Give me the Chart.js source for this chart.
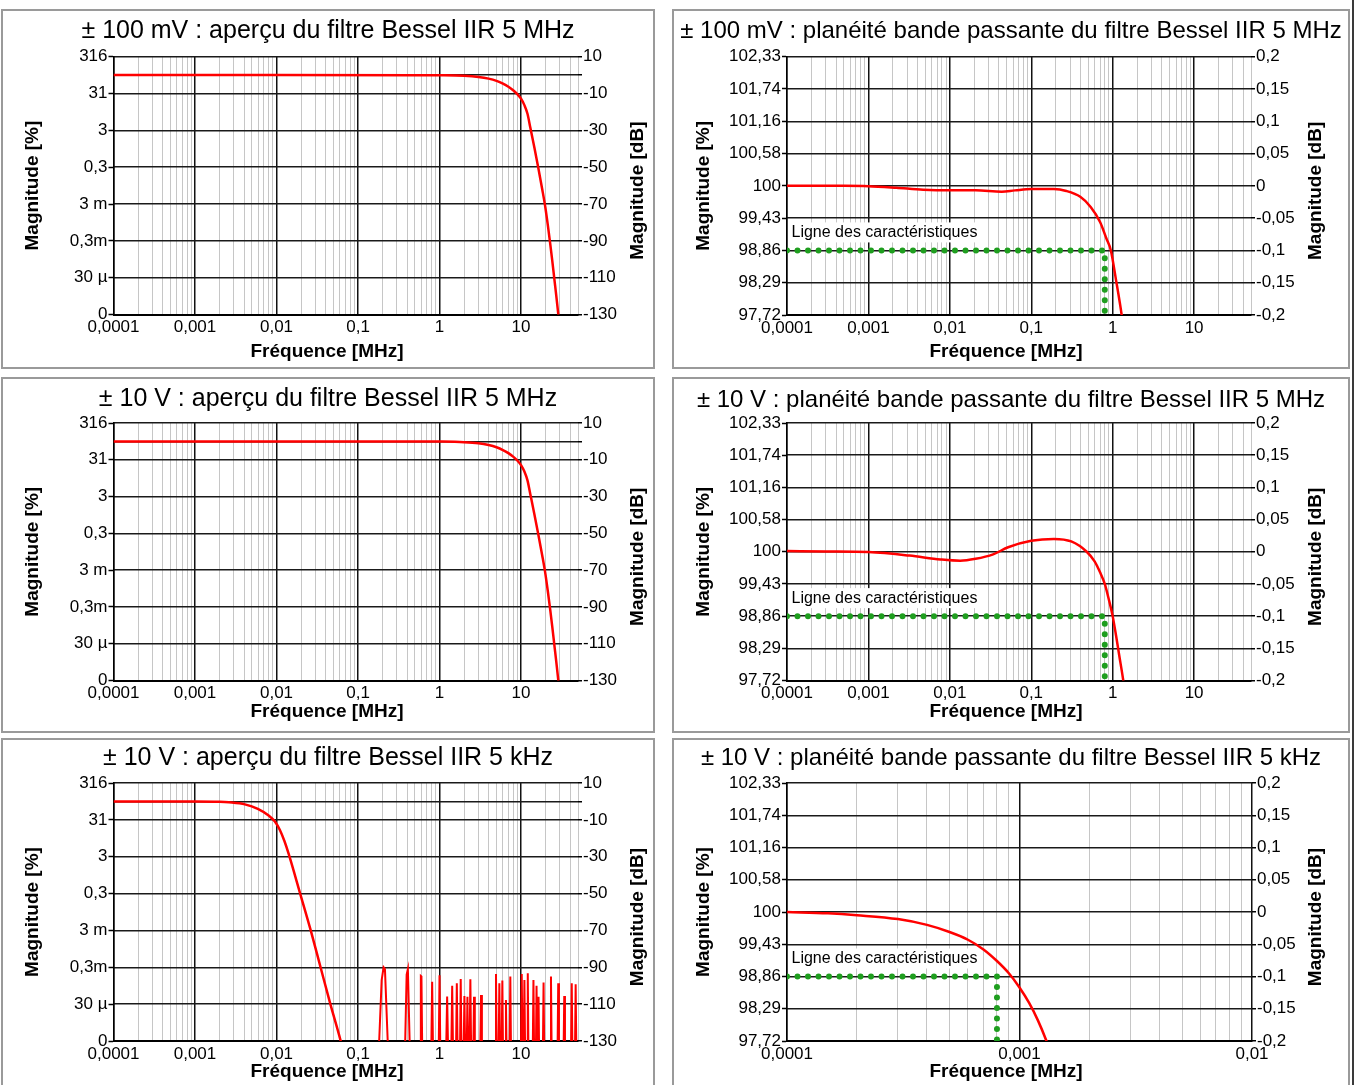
<!DOCTYPE html>
<html lang="fr">
<head>
<meta charset="UTF-8">
<title>Filtre Bessel IIR</title>
<script src="https://cdn.jsdelivr.net/npm/chart.js"></script>
<style>
  html, body { margin: 0; padding: 0; background: #fff; }
  body { width: 1355px; height: 1085px; position: relative; overflow: hidden; }
  .panel { position: absolute; box-sizing: border-box; border: 2px solid #9a9a9a; }
  canvas { position: absolute; }
  #edge { position: absolute; left: 1352px; top: 0; width: 2px; height: 1085px; background: #3a3a3a; }
</style>
</head>
<body>
<div id="edge"></div>
<script>
// frequencies in MHz, magnitudes in dB
const ov100mVFreq = [0.0001, 0.01, 0.5, 1, 2, 3, 4, 5, 6, 7, 8, 9, 10, 11, 12, 13, 14.6, 16.3, 18.2, 19.9, 21.4, 22.8, 24.2, 25.6, 27.1, 28.6, 30];
const ov100mVDb   = [0, 0, -0.03, -0.1, -0.4, -1.0, -1.9, -3.1, -4.6, -6.3, -8.2, -10.3, -12.8, -16.3, -21, -28.5, -39.5, -50.5, -62, -72, -82, -91.5, -101, -110.5, -120, -129.5, -138];

const ov10VFreq = [0.0001, 0.01, 0.5, 1, 2, 3, 4, 5, 6, 7, 8, 9, 10, 11, 12, 13, 14.6, 16.3, 18.2, 19.9, 21.4, 22.8, 24.2, 25.6, 27.1, 28.6, 30];
const ov10VDb   = [0, 0, -0.03, -0.1, -0.45, -1.05, -2.0, -3.2, -4.7, -6.4, -8.3, -10.4, -12.9, -16.4, -21.2, -28.7, -39.7, -50.6, -62, -72, -82, -91.5, -101, -110.5, -120, -129.5, -138];

const ov5kFreq = [0.0001, 0.001, 0.002, 0.0026, 0.0041, 0.0059, 0.008, 0.0095, 0.011, 0.0125, 0.0141, 0.0195, 0.0263, 0.0347, 0.0458, 0.0613, 0.066];
const ov5kDb   = [0, 0, -0.2, -0.5, -1.6, -4, -7.6, -10.8, -15.5, -21.5, -28.5, -50, -70, -90, -110, -130, -136];

// residual noise spikes of the 5 kHz filter (floor below the axis)
const noise5kFreq = [0.178, 0.195, 0.206, 0.214, 0.236,
  0.375, 0.395, 0.409, 0.435,
  0.58, 0.59, 0.6, 0.615,
  0.79, 0.812, 0.835,
  0.975, 1.0, 1.025,
  1.2, 1.24, 1.28,
  1.39, 1.43, 1.47,
  1.59, 1.63, 1.67,
  1.78, 1.82, 1.86,
  1.97, 2.02, 2.07,
  2.15, 2.2, 2.25,
  2.33, 2.39, 2.45,
  2.59, 2.65, 2.71,
  3.15, 3.23, 3.31,
  4.82, 4.93, 5.04,
  5.3, 5.42, 5.54,
  5.77, 5.9, 6.03,
  6.39, 6.53, 6.67,
  7.23, 7.39, 7.55,
  9.95, 10.2, 10.45,
  10.75, 11.0, 11.25,
  11.85, 12.1, 12.35,
  13.9, 14.2, 14.5,
  15.2, 15.5, 15.8,
  16.1, 16.4, 16.7,
  18.5, 18.9, 19.3,
  22.8, 23.3, 23.8,
  28.0, 28.6, 29.2,
  33.2, 33.9, 34.6,
  41.0, 41.9, 42.8,
  45.8, 46.8, 47.8];
const noise5kDb = [-140, -97, -90, -91, -140,
  -140, -94, -91, -140,
  -140, -94.7, -95, -140,
  -140, -97.8, -140,
  -140, -94.3, -140,
  -140, -105.9, -140,
  -140, -100, -140,
  -140, -98.7, -140,
  -140, -96.3, -140,
  -140, -105.6, -140,
  -140, -106, -140,
  -140, -96.5, -140,
  -140, -106, -140,
  -140, -105, -140,
  -140, -93.6, -140,
  -140, -98.7, -140,
  -140, -97.2, -140,
  -140, -107.7, -140,
  -140, -95, -140,
  -140, -93.6, -140,
  -140, -96.9, -140,
  -140, -93.3, -140,
  -140, -96.9, -140,
  -140, -100, -140,
  -140, -106, -140,
  -140, -98.3, -140,
  -140, -95, -140,
  -140, -98.7, -140,
  -140, -105.6, -140,
  -140, -98.7, -140,
  -140, -99.2, -140];

const flat100mVFreq = [0.0001, 0.0005, 0.001, 0.0022, 0.0047, 0.01, 0.0207, 0.0434, 0.063, 0.1, 0.19, 0.27, 0.4, 0.54, 0.7, 0.84, 0.95, 1.1, 1.29, 1.35];
const flat100mVDb   = [0, 0, -0.0005, -0.003, -0.006, -0.007, -0.007, -0.009, -0.007, -0.005, -0.005, -0.008, -0.017, -0.033, -0.056, -0.082, -0.1, -0.146, -0.2, -0.22];

const flat10VFreq = [0.0001, 0.0003, 0.001, 0.0032, 0.0077, 0.0134, 0.0207, 0.034, 0.052, 0.1, 0.19, 0.31, 0.48, 0.6, 0.7, 0.8, 0.9, 1.0, 1.1, 1.2, 1.35, 1.42];
const flat10VDb   = [0.001, 0.0005, -0.0005, -0.006, -0.012, -0.014, -0.011, -0.004, 0.007, 0.017, 0.02, 0.016, 0, -0.015, -0.032, -0.05, -0.075, -0.1, -0.13, -0.16, -0.2, -0.22];

const flat5kFreq = [0.0001, 0.00015, 0.0002, 0.0003, 0.0004, 0.0005, 0.0006, 0.0007, 0.0008, 0.0009, 0.001, 0.0011, 0.0012, 0.0013, 0.0014];
const flat5kDb   = [0, -0.002, -0.005, -0.011, -0.02, -0.031, -0.043, -0.058, -0.076, -0.095, -0.117, -0.141, -0.168, -0.198, -0.23];

// "Ligne des caractéristiques" corner points
const specDb = -0.1;
const specFloorDb = -0.2;
const spec5MHzFreq = 0.8;
const spec5kHzFreq = 0.0008;

// axis ticks and labels
const freqTickValues = [0.0001, 0.001, 0.01, 0.1, 1, 10];
const freqTickLabels = ['0,0001', '0,001', '0,01', '0,1', '1', '10'];

const ovPctTicks  = [10, -10, -30, -50, -70, -90, -110, -130];
const ovPctLabels = ['316', '31', '3', '0,3', '3 m', '0,3m', '30 µ', '0'];
const ovDbTicks   = [10, 0, -10, -30, -50, -70, -90, -110, -130];
const ovDbLabels  = ['10', '', '-10', '-30', '-50', '-70', '-90', '-110', '-130'];

const flatDbTicks   = [0.2, 0.15, 0.1, 0.05, 0, -0.05, -0.1, -0.15, -0.2];
const flatPctLabels = ['102,33', '101,74', '101,16', '100,58', '100', '99,43', '98,86', '98,29', '97,72'];
const flatDbLabels  = ['0,2', '0,15', '0,1', '0,05', '0', '-0,05', '-0,1', '-0,15', '-0,2'];

const FONT = '"Liberation Sans", Arial, Helvetica, sans-serif';
Chart.defaults.font.family = FONT;
Chart.defaults.color = '#000';

const panels = [
  { box: [1, 9, 654, 360], plot: [113.5, 56.7, 578, 314.5], titleY: 31.5, titleSize: 25, xTitle: [327, 352], rightTitleX: 638,
    title: '± 100 mV : aperçu du filtre Bessel IIR 5 MHz', kind: 'overview', xMax: 50,
    curves: [[ov100mVFreq, ov100mVDb]] },
  { box: [672, 9, 678, 360], plot: [787, 56.7, 1251, 315], titleY: 31, titleSize: 24, xTitle: [1006, 352], rightTitleX: 1316,
    title: '± 100 mV : planéité bande passante du filtre Bessel IIR 5 MHz', kind: 'flat', xMax: 50,
    curves: [[flat100mVFreq, flat100mVDb]], spec: spec5MHzFreq },
  { box: [1, 377, 654, 356], plot: [113.5, 423, 578, 680.5], titleY: 399, titleSize: 25, xTitle: [327, 711.5], rightTitleX: 638,
    title: '± 10 V : aperçu du filtre Bessel IIR 5 MHz', kind: 'overview', xMax: 50,
    curves: [[ov10VFreq, ov10VDb]] },
  { box: [672, 377, 678, 356], plot: [787, 423, 1251, 680.5], titleY: 400, titleSize: 24, xTitle: [1006, 711.5], rightTitleX: 1316,
    title: '± 10 V : planéité bande passante du filtre Bessel IIR 5 MHz', kind: 'flat', xMax: 50,
    curves: [[flat10VFreq, flat10VDb]], spec: spec5MHzFreq },
  { box: [1, 738, 654, 360], plot: [113.5, 783, 578, 1041], titleY: 758, titleSize: 25, xTitle: [327, 1072], rightTitleX: 638,
    title: '± 10 V : aperçu du filtre Bessel IIR 5 kHz', kind: 'overview', xMax: 50,
    curves: [[ov5kFreq, ov5kDb], [noise5kFreq, noise5kDb]] },
  { box: [672, 738, 678, 360], plot: [787, 783, 1252, 1041], titleY: 758, titleSize: 24, xTitle: [1006, 1072], rightTitleX: 1316,
    title: '± 10 V : planéité bande passante du filtre Bessel IIR 5 kHz', kind: 'flat', xMax: 0.01,
    curves: [[flat5kFreq, flat5kDb]], spec: spec5kHzFreq }
];

function freqGrid(min, max) {
  const out = [];
  for (let e = Math.round(Math.log10(min)); Math.pow(10, e) <= max * 1.001; e++) {
    for (let k = 1; k <= 9; k++) {
      const v = Number((k * Math.pow(10, e)).toPrecision(6));
      if (v <= max * 1.001) out.push({ value: v, major: k === 1 });
    }
  }
  return out;
}

function freqLabel(v) {
  const i = freqTickValues.findIndex(t => Math.abs(t - v) / t < 1e-6);
  return i >= 0 ? freqTickLabels[i] : '';
}

// extra text: axis titles placed like the original and the spec line caption
const panelText = {
  id: 'panelText',
  beforeDatasetsDraw(chart, args, opts) {
    if (!opts.note) return;
    const { ctx, chartArea } = chart;
    const y = chart.scales.y.getPixelForValue(specDb) - 18;
    const x = chartArea.left + 4.5;
    ctx.save();
    ctx.font = '16px ' + FONT;
    const w = ctx.measureText(opts.note).width;
    ctx.fillStyle = '#fff';
    ctx.fillRect(x - 1, y - 10, w + 3, 20);
    ctx.fillStyle = '#000';
    ctx.textBaseline = 'middle';
    ctx.fillText(opts.note, x, y);
    ctx.restore();
  },
  afterDraw(chart, args, opts) {
    const { ctx, chartArea } = chart;
    ctx.save();
    ctx.font = 'bold 19px ' + FONT;
    ctx.fillStyle = '#000';
    ctx.textAlign = 'center';
    ctx.textBaseline = 'middle';
    ctx.fillText('Fréquence [MHz]', opts.xTitleX, opts.xTitleY);
    ctx.translate(opts.rightTitleX, (chartArea.top + chartArea.bottom) / 2 + 5);
    ctx.rotate(-Math.PI / 2);
    ctx.fillText('Magnitude [dB]', 0, 0);
    ctx.restore();
  }
};

panels.forEach(p => {
  const [bx, by, bw, bh] = p.box;
  const [pl, pt, pr, pb] = p.plot;

  const frame = document.createElement('div');
  frame.className = 'panel';
  Object.assign(frame.style, { left: bx + 'px', top: by + 'px', width: bw + 'px', height: bh + 'px' });
  document.body.appendChild(frame);

  const canvas = document.createElement('canvas');
  canvas.width = bw;
  canvas.height = bh;
  Object.assign(canvas.style, { left: bx + 'px', top: by + 'px', width: bw + 'px', height: bh + 'px' });
  document.body.appendChild(canvas);

  const flat = p.kind === 'flat';
  const yMin = flat ? -0.2 : -130;
  const yMax = flat ? 0.2 : 10;
  const leftTicks = flat ? flatDbTicks : ovPctTicks;
  const leftLabels = flat ? flatPctLabels : ovPctLabels;
  const rightTicks = flat ? flatDbTicks : ovDbTicks;
  const rightLabels = flat ? flatDbLabels : ovDbLabels;

  const titleLh = p.titleSize * 1.2;
  const titlePadTop = (p.titleY - by) - titleLh / 2;
  const titlePadBottom = (pt - by) - titlePadTop - titleLh;
  const axisLh = 19 * 1.2;

  const datasets = [];
  p.curves.forEach((c, k) => {
    datasets.push({
      data: c[0].map((f, i) => ({ x: f, y: c[1][i] })),
      borderColor: '#ff0000',
      borderWidth: k === 0 ? 2.5 : 2,
      pointRadius: 0,
      fill: false,
      tension: 0,
      cubicInterpolationMode: k === 0 ? 'monotone' : 'default'
    });
  });
  if (p.spec) {
    datasets.push({
      data: [{ x: 0.0001, y: specDb }, { x: p.spec, y: specDb }, { x: p.spec, y: specFloorDb }],
      borderColor: '#1f9e1f',
      borderWidth: 6,
      borderDash: [0, 10.5],
      borderCapStyle: 'round',
      pointRadius: 0,
      fill: false,
      tension: 0
    });
  }

  new Chart(canvas, {
    type: 'line',
    data: { datasets },
    plugins: [panelText],
    options: {
      responsive: false,
      animation: false,
      devicePixelRatio: 1,
      events: [],
      layout: { padding: 0, autoPadding: false },
      plugins: {
        legend: { display: false },
        tooltip: { enabled: false },
        title: {
          display: true,
          text: p.title,
          color: '#000',
          font: { size: p.titleSize, weight: 'normal' },
          padding: { top: titlePadTop, bottom: titlePadBottom }
        },
        panelText: {
          rightTitleX: p.rightTitleX - bx,
          xTitleX: p.xTitle[0] - bx,
          xTitleY: p.xTitle[1] - by,
          note: p.spec ? 'Ligne des caractéristiques' : null
        }
      },
      scales: {
        x: {
          type: 'logarithmic',
          position: 'bottom',
          min: 0.0001,
          max: p.xMax,
          afterBuildTicks: s => { s.ticks = freqGrid(0.0001, p.xMax); },
          afterFit: s => { s.height = by + bh - pb; },
          ticks: {
            callback: v => freqLabel(v),
            autoSkip: false,
            maxRotation: 0,
            minRotation: 0,
            padding: 3,
            font: { size: 17 },
            color: '#000'
          },
          grid: {
            color: c => (c.tick && c.tick.major ? '#111' : '#c6c6c6'),
            lineWidth: c => (c.tick && c.tick.major ? 1.5 : 1),
            drawTicks: false
          },
          border: { display: true, color: '#000', width: 2 },
          title: { display: false, text: 'Fréquence [MHz]' }
        },
        y: {
          type: 'linear',
          position: 'left',
          min: yMin,
          max: yMax,
          afterBuildTicks: s => { s.ticks = leftTicks.slice().reverse().map(v => ({ value: v })); },
          afterFit: s => { s.width = pl - bx; },
          ticks: {
            callback: v => leftLabels[leftTicks.indexOf(v)],
            autoSkip: false,
            padding: 1,
            font: { size: 17 },
            color: '#000'
          },
          grid: { drawOnChartArea: false, drawTicks: true, tickLength: 5, tickColor: '#000', tickWidth: 1.5 },
          border: { display: true, color: '#000', width: 1.5 },
          title: {
            display: true,
            text: 'Magnitude [%]',
            color: '#000',
            font: { size: 19, weight: 'bold' },
            padding: { top: 32 - axisLh / 2, bottom: 0 }
          }
        },
        y2: {
          type: 'linear',
          position: 'right',
          min: yMin,
          max: yMax,
          afterBuildTicks: s => { s.ticks = rightTicks.slice().reverse().map(v => ({ value: v })); },
          afterFit: s => { s.width = bx + bw - pr; },
          ticks: {
            callback: v => rightLabels[rightTicks.indexOf(v)],
            autoSkip: false,
            padding: 1,
            font: { size: 17 },
            color: '#000'
          },
          grid: { drawOnChartArea: true, color: '#1a1a1a', lineWidth: 1.5, drawTicks: true, tickLength: 4, tickColor: '#000' },
          border: { display: false }
        }
      }
    }
  });
});
</script>
</body>
</html>
